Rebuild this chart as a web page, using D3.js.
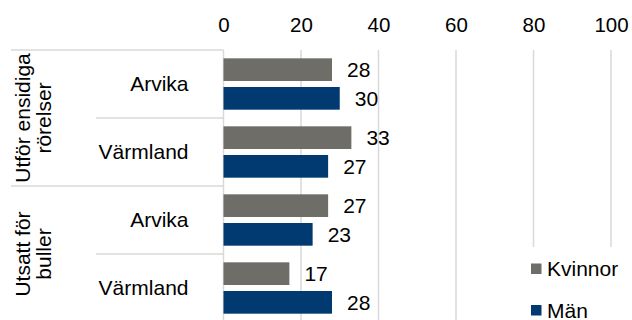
<!DOCTYPE html>
<html>
<head>
<meta charset="utf-8">
<script src="https://cdn.jsdelivr.net/npm/d3@7"></script>
<style>
  html, body { margin: 0; padding: 0; background: #fff; }
  svg { display: block; }
  text { font-family: "Liberation Sans", Arial, sans-serif; fill: #000; }
</style>
</head>
<body>
<div id="chart"></div>
<script>
// Group / sub-category labels
const groups = [
  { lines: ["Utför ensidiga", "rörelser"], rows: ["Arvika", "Värmland"] },
  { lines: ["Utsatt för", "buller"], rows: ["Arvika", "Värmland"] }
];
const rowKeys = ["g1-Arvika", "g1-Värmland", "g2-Arvika", "g2-Värmland"];
const rowLabels = ["Arvika", "Värmland", "Arvika", "Värmland"];

const seriesNames = ["Kvinnor", "Män"];
const kvinnor = [28, 33, 27, 17];
const man = [30, 27, 23, 28];
const xTicks = [0, 20, 40, 60, 80, 100];

const colors = { "Kvinnor": "#6f6d68", "Män": "#003a70" };

const W = 632, H = 320;
const svg = d3.select("#chart").append("svg").attr("width", W).attr("height", H);

const x = d3.scaleLinear().domain([0, 100]).range([223.5, 611]);
const y = d3.scaleBand().domain(rowKeys).range([50, 322]);
const ySub = d3.scaleBand().domain(seriesNames).range([0, y.bandwidth()])
  .paddingInner(0.21).paddingOuter(0.29);

const fs = 21;
const gridColor = "#d9d9d9";

// vertical gridlines
svg.append("g").selectAll("line").data(xTicks.filter(d => d > 0)).join("line")
  .attr("x1", d => x(d)).attr("x2", d => x(d))
  .attr("y1", 50).attr("y2", H)
  .attr("stroke", gridColor).attr("stroke-width", 1.5);

// top tick labels
const axis = d3.axisTop(x).tickValues(xTicks).tickSize(0).tickPadding(0);
const ax = svg.append("g").attr("transform", "translate(0,32)").call(axis);
ax.select(".domain").remove();
ax.selectAll("text").attr("font-size", 20.5).attr("font-family", "Liberation Sans, Arial, sans-serif")
  .attr("fill", "#000").attr("dy", 0);

// category axis line
svg.append("line").attr("x1", x(0)).attr("x2", x(0)).attr("y1", 50).attr("y2", H)
  .attr("stroke", gridColor).attr("stroke-width", 1.5);

// horizontal separators of the multi-level category axis
const sepG = svg.append("g").attr("stroke", gridColor).attr("stroke-width", 1.5);
rowKeys.forEach((k, i) => {
  const yy = y(k);
  const outer = i % 2 === 0;
  sepG.append("line").attr("x1", outer ? 11 : 96).attr("x2", x(0)).attr("y1", yy).attr("y2", yy);
});

// bars
const series = [
  { name: "Kvinnor", values: kvinnor },
  { name: "Män", values: man }
];
series.forEach(s => {
  const g = svg.append("g");
  g.selectAll("rect").data(s.values).join("rect")
    .attr("x", x(0))
    .attr("y", (d, i) => y(rowKeys[i]) + ySub(s.name))
    .attr("width", d => x(d) - x(0))
    .attr("height", ySub.bandwidth())
    .attr("fill", colors[s.name]);
  g.selectAll("text").data(s.values).join("text")
    .attr("x", d => x(d) + 15)
    .attr("y", (d, i) => y(rowKeys[i]) + ySub(s.name) + ySub.bandwidth() / 2)
    .attr("dy", "0.35em")
    .attr("font-size", fs)
    .text(d => d);
});

// sub-category labels
svg.append("g").selectAll("text").data(rowKeys).join("text")
  .attr("x", 188.5)
  .attr("y", d => y(d) + y.bandwidth() / 2)
  .attr("dy", "0.35em")
  .attr("text-anchor", "end")
  .attr("font-size", fs)
  .text((d, i) => rowLabels[i]);

// rotated group labels
groups.forEach((g, gi) => {
  const top = y(rowKeys[gi * 2]);
  const bottom = y(rowKeys[gi * 2 + 1]) + y.bandwidth();
  const cy = (top + bottom) / 2;
  const t = svg.append("text")
    .attr("transform", `translate(30,${cy}) rotate(-90)`)
    .attr("text-anchor", "middle")
    .attr("font-size", fs);
  g.lines.forEach((ln, li) => {
    t.append("tspan").attr("x", 0).attr("y", li * 21).text(ln);
  });
});

// legend
const lg = svg.append("g");
lg.append("rect").attr("x", 520).attr("y", 247).attr("width", 112).attr("height", 73).attr("fill", "#fff");
seriesNames.forEach((n, i) => {
  const yy = 263.5 + i * 41.5;
  lg.append("rect").attr("x", 531).attr("y", yy).attr("width", 10.5).attr("height", 10.5).attr("fill", colors[n]);
  lg.append("text").attr("x", 547).attr("y", yy + 12.5).attr("font-size", fs).text(n);
});
</script>
</body>
</html>
